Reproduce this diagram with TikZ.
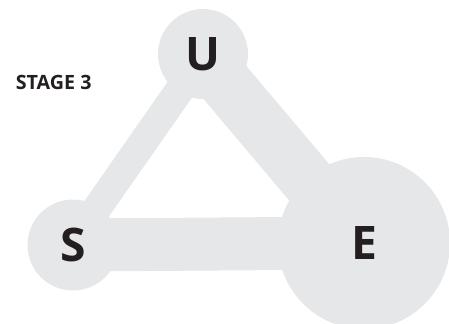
\documentclass[tikz,border=0pt]{standalone}
\usepackage{fontspec}
\setmainfont{Open Sans}
\usepackage{tikz}
\usetikzlibrary{backgrounds}
\definecolor{hubgray}{HTML}{E6E7E8}
\definecolor{ink}{HTML}{231F20}
\tikzset{
  hub/.style={circle,fill=hubgray,text=ink,font={\fontsize{26.3pt}{30}\selectfont\bfseries}},
  bar/.style={draw=hubgray,line cap=butt}}

\begin{document}
\begin{tikzpicture}[scale=0.2]
\tikzstyle{every node}+=[inner sep=0pt]
\useasboundingbox (0,0) rectangle (44.9,-32.3);
\clip (0,0) rectangle (44.9,-32.3);
\node [hub,minimum size=1.8cm] (U) at (20.3,-5.4) {U};
\node [hub,minimum size=1.82cm] (S) at (7.3,-24.5) {S};
\node [hub,minimum size=3.44cm] (E) at (36.4,-24.3) {E};
\node [anchor=west,text=ink,font={\fontsize{11.2pt}{13}\selectfont\bfseries}] (stage) at (1.55,-8.2) {STAGE 3};
\coordinate (Uj) at ([yshift=-0.25cm]U.center);
\coordinate (Sj) at ([yshift=0.24cm]S.center);
\coordinate (Ej) at ([xshift=-0.36cm]E.center);
\begin{pgfonlayer}{background}
\draw [bar,line width=1.06cm] (S.center) -- (E.center);
\draw [bar,line width=0.58cm] (Sj) -- (Uj);
\draw [bar,line width=1.08cm] (Uj) -- (Ej);
\end{pgfonlayer}
\end{tikzpicture}
\end{document}
